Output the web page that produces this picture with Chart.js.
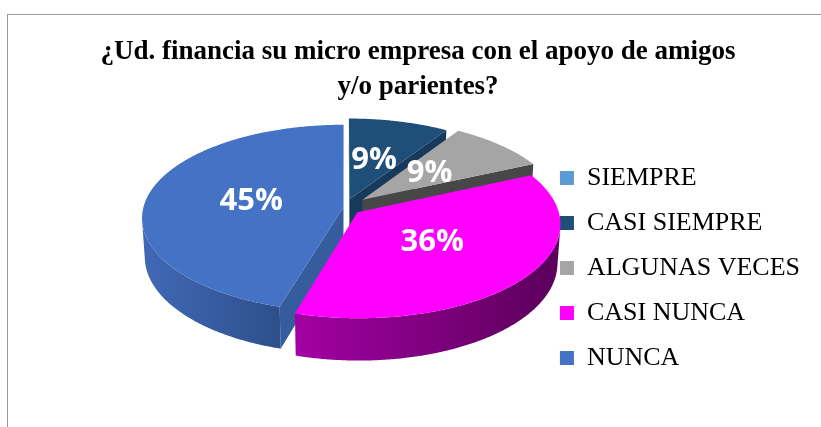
<!DOCTYPE html>
<html>
<head>
<meta charset="utf-8">
<script src="https://cdn.jsdelivr.net/npm/chart.js@4.4.1/dist/chart.umd.min.js"></script>
<style>
  html, body { margin: 0; padding: 0; background: #ffffff; }
  #wrap { position: relative; width: 821px; height: 427px; overflow: hidden; }
  #frame { position: absolute; left: 7px; top: 14px; width: 900px; height: 500px;
           border-left: 1px solid #9a9a9a; border-top: 1px solid #9a9a9a; }
  #c { position: absolute; left: 0; top: 0; }
</style>
</head>
<body>
<div id="wrap">
  <div id="frame"></div>
  <canvas id="c" width="821" height="427"></canvas>
</div>
<script>
// ---- data ----
const categories = ['SIEMPRE', 'CASI SIEMPRE', 'ALGUNAS VECES', 'CASI NUNCA', 'NUNCA'];
const percentages = [0, 9, 9, 36, 45];
const titleLines = ['¿Ud. financia su micro empresa con el apoyo de amigos', 'y/o parientes?'];

// ---- styles ----
const topColors    = ['#5B9BD5', '#1F4E79', '#A5A5A5', '#FF00FF', '#4472C4'];
const sideLight    = ['#4F86BA', '#1A4268', '#8C8C8C', '#A300A3', '#4069B6'];
const sideDark     = ['#3A6690', '#112E4A', '#5A5A5A', '#5A005A', '#2E4F8C'];
const radialColors = ['#4A7FB0', '#17395B', '#474747', '#8A008A', '#365C9E'];
const explode      = [0, 0.09, 0.12, 0.085, 0.005];

const pie3d = {
  id: 'pie3d',
  beforeDatasetsDraw(chart, args, o) {
    const ctx = chart.ctx;
    const arcs = chart.getDatasetMeta(0).data;
    if (!arcs.length) return false;
    const ref = arcs[0];
    const R = ref.outerRadius * o.radiusScale;
    const cx = ref.x + o.dx, cy = ref.y + o.dy;
    const phi = o.tilt * Math.PI / 180, sp = Math.sin(phi), cp = Math.cos(phi);
    const D = o.distance * R, H = o.depth * R;
    const camY = D * cp;
    const P = (X, Y, Z) => {
      const f = D / (D - (Y * cp + Z * sp));
      return [cx + f * X, cy + f * (Y * sp - Z * cp)];
    };
    const ds = chart.data.datasets[0];
    const step = Math.PI / 360;
    const list = [];
    arcs.forEach((el, i) => {
      const a0 = el.startAngle, a1 = el.endAngle;
      if (a1 - a0 < 1e-6) return;
      const mid = (a0 + a1) / 2, e = (o.explode[i] || 0) * R;
      list.push({ i, a0, a1, mid, ox: Math.cos(mid) * e, oy: Math.sin(mid) * e });
    });
    list.sort((p, q) => (Math.sin(p.mid) * R + p.oy) - (Math.sin(q.mid) * R + q.oy));
    const poly = (pts, fill) => {
      ctx.beginPath();
      pts.forEach((p, k) => k ? ctx.lineTo(p[0], p[1]) : ctx.moveTo(p[0], p[1]));
      ctx.closePath();
      ctx.fillStyle = fill;
      ctx.fill();
    };
    const angles = (a0, a1) => {
      const n = Math.max(2, Math.ceil((a1 - a0) / step));
      const r = [];
      for (let k = 0; k <= n; k++) r.push(a0 + (a1 - a0) * k / n);
      return r;
    };
    ctx.save();
    list.forEach(s => {
      const rim = (a, Z) => P(s.ox + R * Math.cos(a), s.oy + R * Math.sin(a), Z);
      const apex = Z => P(s.ox, s.oy, Z);
      // radial (cut) faces
      [[s.a0, s.a0 - Math.PI / 2], [s.a1, s.a1 + Math.PI / 2]].forEach(([a, na]) => {
        const nx = Math.cos(na), ny = Math.sin(na);
        if (nx * (0 - s.ox) + ny * (camY - s.oy) > 0) {
          poly([apex(0), rim(a, 0), rim(a, -H), apex(-H)], o.radialColors[s.i]);
        }
      });
      // outer curved side
      const as = angles(s.a0, s.a1);
      let run = [];
      const flush = () => {
        if (run.length > 1) {
          const top = run.map(a => rim(a, 0));
          const bot = run.map(a => rim(a, -H)).reverse();
          const xs = top.map(p => p[0]);
          const g = ctx.createLinearGradient(Math.min(...xs), 0, Math.max(...xs), 0);
          g.addColorStop(0, o.sideLight[s.i]);
          g.addColorStop(1, o.sideDark[s.i]);
          poly(top.concat(bot), g);
        }
        run = [];
      };
      as.forEach(a => {
        const vis = Math.sin(a) * camY - (Math.cos(a) * s.ox + Math.sin(a) * s.oy) - R > 0;
        if (vis) run.push(a); else flush();
      });
      flush();
      // top face
      poly([apex(0)].concat(as.map(a => rim(a, 0))), ds.backgroundColor[s.i]);
    });
    // data labels
    ctx.fillStyle = o.labelColor;
    ctx.font = o.labelFont;
    ctx.textAlign = 'center';
    ctx.textBaseline = 'middle';
    list.forEach(s => {
      const r = o.labelRadius * R;
      const p = P(s.ox + r * Math.cos(s.mid), s.oy + r * Math.sin(s.mid), 0);
      ctx.fillText(ds.data[s.i] + '%', p[0], p[1]);
    });
    ctx.restore();
    return false;
  }
};

new Chart(document.getElementById('c'), {
  type: 'pie',
  data: {
    labels: categories,
    datasets: [{
      data: percentages,
      backgroundColor: topColors,
      borderWidth: 0,
      hoverOffset: 0,
      offset: 0
    }]
  },
  plugins: [pie3d],
  options: {
    responsive: false,
    animation: false,
    events: [],
    layout: { padding: { left: 26, right: 11, top: 0, bottom: 0 } },
    plugins: {
      title: {
        display: true,
        text: titleLines,
        color: '#000000',
        font: { family: 'Liberation Serif', size: 27, weight: 'bold', lineHeight: 1.3 },
        padding: { top: 34, bottom: 5 }
      },
      legend: {
        position: 'right',
        fullSize: false,
        labels: {
          color: '#000000',
          font: { family: 'Liberation Serif', size: 26 },
          boxWidth: 14,
          boxHeight: 14,
          padding: 19
        }
      },
      tooltip: { enabled: false },
      pie3d: {
        radiusScale: 1.2586,
        dx: 61,
        dy: -61.1,
        tilt: 27.4,
        distance: 7.4,
        depth: 0.22,
        explode: explode,
        sideLight: sideLight,
        sideDark: sideDark,
        radialColors: radialColors,
        labelRadius: 0.47,
        labelColor: '#ffffff',
        labelFont: 'bold 31px "Open Sans"'
      }
    }
  }
});
</script>
</body>
</html>
